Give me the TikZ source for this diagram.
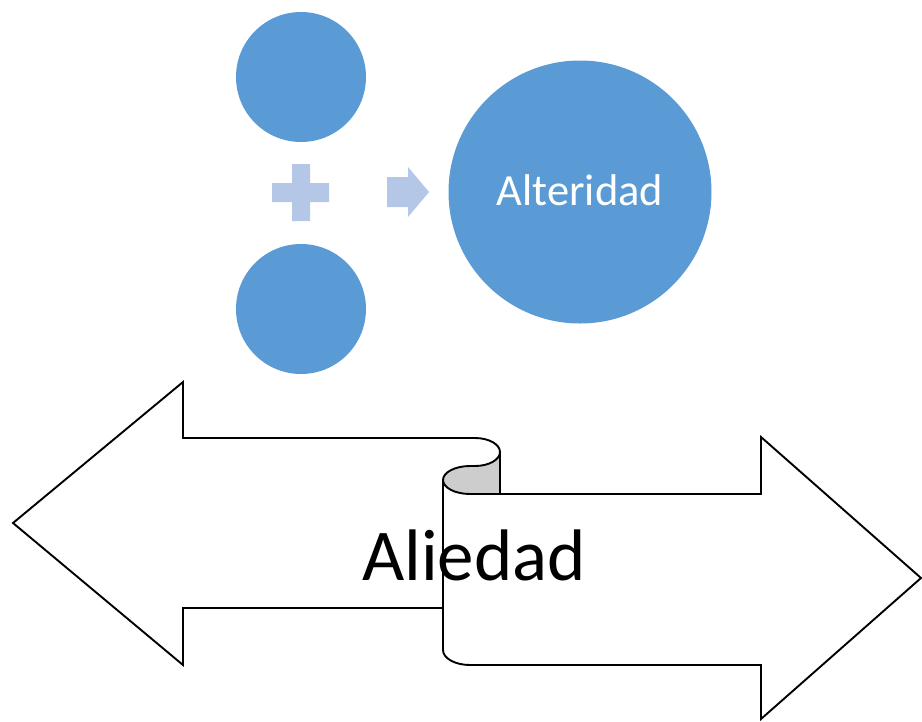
\documentclass[tikz,border=0pt]{standalone}
\usepackage{fontspec}
\setmainfont{Carlito}
\usepackage{tikz}
\definecolor{dotblue}{RGB}{91,155,213}
\definecolor{paleblue}{RGB}{180,199,231}
\definecolor{curlgray}{RGB}{205,205,205}

\begin{document}
\begin{tikzpicture}[x=1pt,y=-1pt,
            dot/.style={circle,fill=dotblue,inner sep=0pt,minimum size=130pt},
            bigdot/.style={circle,fill=dotblue,inner sep=0pt,minimum size=263pt},
            outline/.style={black,line width=1.9pt,line join=miter},
            every node/.style={inner sep=0pt}]
            \useasboundingbox (0,0) rectangle (922,721);

            \node[dot] (top) at (301,77) {};
            \node[dot] (bottom) at (301,309) {};
            \node[bigdot] (alteridad) at (580,192) {};
            \node[anchor=base,text=white,font=\fontsize{44.5}{50}\selectfont]
                (altlabel) at ([yshift=-13pt]alteridad.center) {Alteridad};

            % plus sign and small arrow
            \fill[paleblue] (292,164) -- (310,164) -- (310,183) -- (329,183) -- (329,202)
                -- (310,202) -- (310,221) -- (292,221) -- (292,202) -- (272,202)
                -- (272,183) -- (292,183) -- cycle;
            \fill[paleblue] (387,177) -- (408,177) -- (408,167) -- (429,192) -- (408,217)
                -- (408,207) -- (387,207) -- cycle;

            % scroll curl
            \fill[curlgray] (500,452) .. controls (500,459.7) and (488.8,466) .. (475,466)
                -- (470,466) .. controls (455.1,466) and (443,472.3) .. (443,480)
                .. controls (443,487.7) and (455.1,494) .. (470,494) -- (500,494) -- cycle;

            \node[anchor=base,font=\fontsize{73}{80}\selectfont] (aliedad) at (474,580) {Aliedad};

            \draw[outline] (443,608) -- (183,608) -- (183,665) -- (13,523) -- (183,382)
                -- (183,438) -- (475,438) .. controls (488.8,438) and (500,444.3) .. (500,452)
                -- (500,494);
            \draw[outline] (500,452) .. controls (500,459.7) and (488.8,466) .. (475,466)
                -- (470,466) .. controls (455.1,466) and (443,472.3) .. (443,480)
                .. controls (443,487.7) and (455.1,494) .. (470,494) -- (761,494) -- (761,437)
                -- (921,578) -- (761,719) -- (761,665) -- (470,665)
                .. controls (455.1,665) and (443,658.3) .. (443,650) -- (443,480);
        \end{tikzpicture}
\end{document}
